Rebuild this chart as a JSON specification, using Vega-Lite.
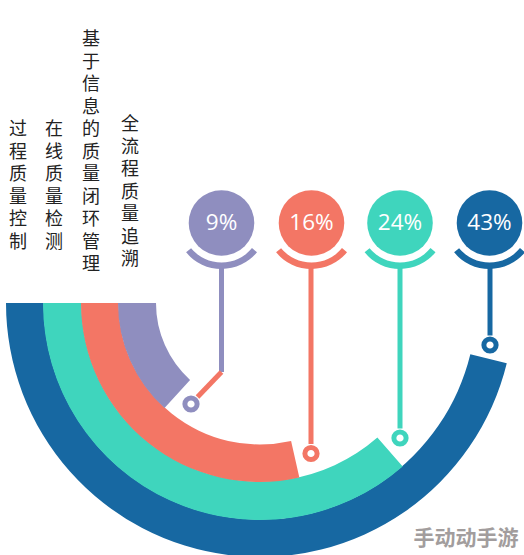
{
  "$schema": "https://vega.github.io/schema/vega-lite/v6.json",
  "width": 524,
  "height": 555,
  "padding": 0,
  "autosize": {"type": "none"},
  "background": "white",
  "view": {"stroke": null},
  "datasets": {
    "bands": [
      {"name": "过程质量控制", "x": 0, "y": 0, "r_in": 216.5, "r_out": 254, "t0": 4.7124, "t1": 1.81},
      {"name": "在线质量检测", "x": 0, "y": 0, "r_in": 178.5, "r_out": 217, "t0": 4.7124, "t1": 2.424},
      {"name": "基于信息的质量闭环管理", "x": 0, "y": 0, "r_in": 141.5, "r_out": 179, "t0": 4.7124, "t1": 2.92},
      {"name": "全流程质量追溯", "x": 0, "y": 0, "r_in": 104, "r_out": 142, "t0": 4.7124, "t1": 3.879}
    ],
    "heads": [
      {"name": "全流程质量追溯", "pct": "9%", "x": -38.5, "y": 80},
      {"name": "基于信息的质量闭环管理", "pct": "16%", "x": 51.5, "y": 80},
      {"name": "在线质量检测", "pct": "24%", "x": 140, "y": 80},
      {"name": "过程质量控制", "pct": "43%", "x": 229.5, "y": 80}
    ],
    "stems": [
      {"name": "全流程质量追溯", "x": -38.5, "y": 36, "y2": -69},
      {"name": "基于信息的质量闭环管理", "x": 51, "y": 36, "y2": -141},
      {"name": "在线质量检测", "x": 140, "y": 36, "y2": -125.5},
      {"name": "过程质量控制", "x": 230, "y": 36, "y2": -32.5}
    ],
    "links": [
      {"x": -38.5, "y": -69, "x2": -62.5, "y2": -94}
    ],
    "rings": [
      {"name": "全流程质量追溯", "x": -69, "y": -101},
      {"name": "基于信息的质量闭环管理", "x": 51, "y": -150.5},
      {"name": "在线质量检测", "x": 140, "y": -135},
      {"name": "过程质量控制", "x": 230, "y": -42}
    ],
    "labels": [
      {"name": "过程质量控制", "text": "过\n程\n质\n量\n控\n制", "x": -242, "y": 182},
      {"name": "在线质量检测", "text": "在\n线\n质\n量\n检\n测", "x": -206, "y": 182},
      {"name": "基于信息的质量闭环管理", "text": "基\n于\n信\n息\n的\n质\n量\n闭\n环\n管\n理", "x": -169, "y": 272},
      {"name": "全流程质量追溯", "text": "全\n流\n程\n质\n量\n追\n溯", "x": -130, "y": 187}
    ],
    "marks": [
      {"text": "手动动手游", "x": 206, "y": -235.5}
    ]
  },
  "encoding": {
    "x": {"field": "x", "type": "quantitative", "scale": {"domain": [-260, 264], "nice": false, "zero": false}, "axis": null},
    "y": {"field": "y", "type": "quantitative", "scale": {"domain": [-252, 303], "nice": false, "zero": false}, "axis": null}
  },
  "layer": [
    {
      "data": {"name": "bands"},
      "mark": {"type": "arc"},
      "encoding": {
        "theta": {"field": "t0", "type": "quantitative", "scale": null, "stack": null},
        "theta2": {"field": "t1"},
        "radius": {"field": "r_out", "type": "quantitative", "scale": null},
        "radius2": {"field": "r_in"},
        "color": {"field": "name", "type": "nominal", "legend": null,
          "scale": {"domain": ["过程质量控制", "在线质量检测", "基于信息的质量闭环管理", "全流程质量追溯"], "range": ["#1768A2", "#3FD5BD", "#F37665", "#8F8EBF"]}}
      }
    },
    {
      "data": {"name": "stems"},
      "mark": {"type": "rule", "strokeWidth": 5},
      "encoding": {
        "y2": {"field": "y2"},
        "color": {"field": "name", "type": "nominal", "legend": null}
      }
    },
    {
      "data": {"name": "links"},
      "mark": {"type": "rule", "strokeWidth": 5, "color": "#F37665"},
      "encoding": {
        "x2": {"field": "x2"},
        "y2": {"field": "y2"}
      }
    },
    {
      "data": {"name": "rings"},
      "mark": {"type": "point", "shape": "circle", "filled": false, "size": 150, "strokeWidth": 5, "opacity": 1},
      "encoding": {
        "color": {"field": "name", "type": "nominal", "legend": null}
      }
    },
    {
      "data": {"name": "heads"},
      "mark": {"type": "arc", "innerRadius": 39.5, "outerRadius": 46, "theta": 2.26, "theta2": 4.02},
      "encoding": {
        "color": {"field": "name", "type": "nominal", "legend": null}
      }
    },
    {
      "data": {"name": "heads"},
      "mark": {"type": "point", "shape": "circle", "filled": true, "size": 4301, "opacity": 1},
      "encoding": {
        "color": {"field": "name", "type": "nominal", "legend": null}
      }
    },
    {
      "data": {"name": "heads"},
      "mark": {"type": "text", "font": "Open Sans", "fontSize": 22.5, "color": "white", "align": "center", "baseline": "middle"},
      "encoding": {
        "text": {"field": "pct"}
      }
    },
    {
      "data": {"name": "labels"},
      "mark": {"type": "text", "font": "Noto Sans CJK SC", "fontSize": 18, "lineHeight": 22.5, "lineBreak": "\n", "color": "#222222", "align": "center", "baseline": "top"},
      "encoding": {
        "text": {"field": "text"}
      }
    },
    {
      "data": {"name": "marks"},
      "mark": {"type": "text", "font": "Noto Sans CJK SC", "fontSize": 21, "fontWeight": "bold", "color": "#A29D9D", "align": "center", "baseline": "middle"},
      "encoding": {
        "text": {"field": "text"}
      }
    }
  ]
}
